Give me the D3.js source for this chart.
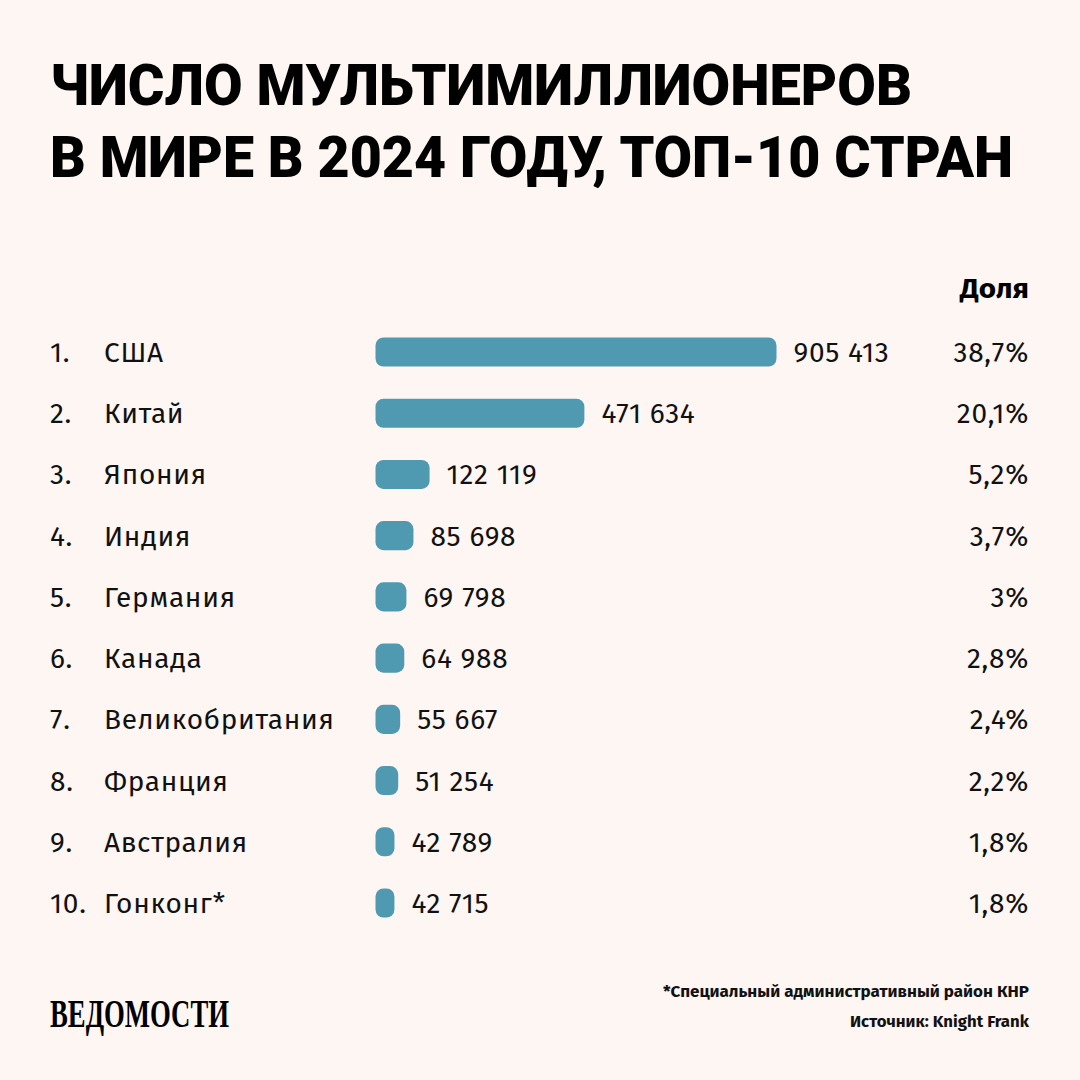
<!DOCTYPE html>
<html><head><meta charset="utf-8">
<script src="https://cdn.jsdelivr.net/npm/d3@7"></script>
<style>
html,body{margin:0;padding:0;background:#fdf6f3;}
svg{display:block;}
</style></head>
<body>
<svg id="chart" width="1080" height="1080"></svg>
<script>
const ranks = ["1.","2.","3.","4.","5.","6.","7.","8.","9.","10."];
const countries = ["США","Китай","Япония","Индия","Германия","Канада","Великобритания","Франция","Австралия","Гонконг*"];
const values = [905413,471634,122119,85698,69798,64988,55667,51254,42789,42715];
const shares = ["38,7%","20,1%","5,2%","3,7%","3%","2,8%","2,4%","2,2%","1,8%","1,8%"];
const titleLines = ["ЧИСЛО МУЛЬТИМИЛЛИОНЕРОВ","В МИРЕ В 2024 ГОДУ, ТОП-10 СТРАН"];
const shareHeader = "Доля";
const footnote = "*Специальный административный район КНР";
const source = "Источник: Knight Frank";
const logo = "ВЕДОМОСТИ";

const svg = d3.select("#chart");
const W = 1080, H = 1080;
svg.append("rect").attr("width",W).attr("height",H).attr("fill","#fdf6f3");

const bodyFont = "'Fira Sans','Noto Sans',sans-serif";
const bodySize = 28;
const bodySpacing = 0.7;
const barColor = "#4f9ab1";
const ink = "#111";

// Title
const titleW = [862, 963];
svg.selectAll("text.title").data(titleLines).join("text")
  .attr("class","title")
  .attr("x",50).attr("y",(d,i)=>105+i*72)
  .attr("font-family","Roboto, sans-serif").attr("font-weight",900)
  .attr("font-size",57).attr("fill","#000")
  .attr("textLength",(d,i)=>titleW[i]).attr("lengthAdjust","spacingAndGlyphs")
  .text(d=>d);

// Scales
const x = d3.scaleLinear().domain([0, d3.max(values)]).range([0, 401]);
const y = d3.scaleBand().domain(d3.range(countries.length)).range([321.5, 933.5]).paddingInner(0.525).paddingOuter(0.26);
const x0 = 375.5;

const rows = svg.selectAll("g.row").data(countries).join("g").attr("class","row");

function bodyText(sel){
  return sel.attr("font-family",bodyFont).attr("font-size",bodySize)
    .attr("letter-spacing",bodySpacing).attr("fill",ink);
}

rows.append("text")
  .attr("x",50).attr("y",(d,i)=>y(i)+y.bandwidth()/2+10)
  .call(bodyText)
  .text((d,i)=>ranks[i]);

rows.append("text")
  .attr("x",104).attr("y",(d,i)=>y(i)+y.bandwidth()/2+10)
  .call(bodyText)
  .text(d=>d);

rows.append("rect")
  .attr("x",x0).attr("y",(d,i)=>y(i))
  .attr("width",(d,i)=>x(values[i])).attr("height",y.bandwidth())
  .attr("rx",(d,i)=>Math.min(8,x(values[i])/2))
  .attr("fill",barColor);

const fmt = v => d3.format(",")(v).replace(/,/g," ");
rows.append("text")
  .attr("x",(d,i)=>x0+x(values[i])+17).attr("y",(d,i)=>y(i)+y.bandwidth()/2+10)
  .call(bodyText)
  .text((d,i)=>fmt(values[i]));

rows.append("text")
  .attr("x",1029).attr("y",(d,i)=>y(i)+y.bandwidth()/2+10)
  .attr("text-anchor","end")
  .call(bodyText)
  .text((d,i)=>shares[i]);

svg.append("text")
  .attr("x",1029).attr("y",298).attr("text-anchor","end")
  .attr("font-family",bodyFont).attr("font-weight",700).attr("font-size",bodySize)
  .attr("fill","#000")
  .attr("textLength",69).attr("lengthAdjust","spacingAndGlyphs")
  .text(shareHeader);

// Footer
svg.append("text")
  .attr("x",1029).attr("y",997).attr("text-anchor","end")
  .attr("font-family",bodyFont).attr("font-weight",700).attr("font-size",15.5).attr("fill","#111")
  .attr("textLength",366).attr("lengthAdjust","spacingAndGlyphs")
  .text(footnote);
svg.append("text")
  .attr("x",1029).attr("y",1027).attr("text-anchor","end")
  .attr("font-family",bodyFont).attr("font-weight",700).attr("font-size",15.5).attr("fill","#111")
  .attr("textLength",179).attr("lengthAdjust","spacingAndGlyphs")
  .text(source);

svg.append("text")
  .attr("x",50).attr("y",1027)
  .attr("font-family","'Liberation Serif','DejaVu Serif',serif").attr("font-weight",700)
  .attr("font-size",40).attr("fill","#000")
  .attr("textLength",179).attr("lengthAdjust","spacingAndGlyphs")
  .text(logo);
</script>
</body></html>
